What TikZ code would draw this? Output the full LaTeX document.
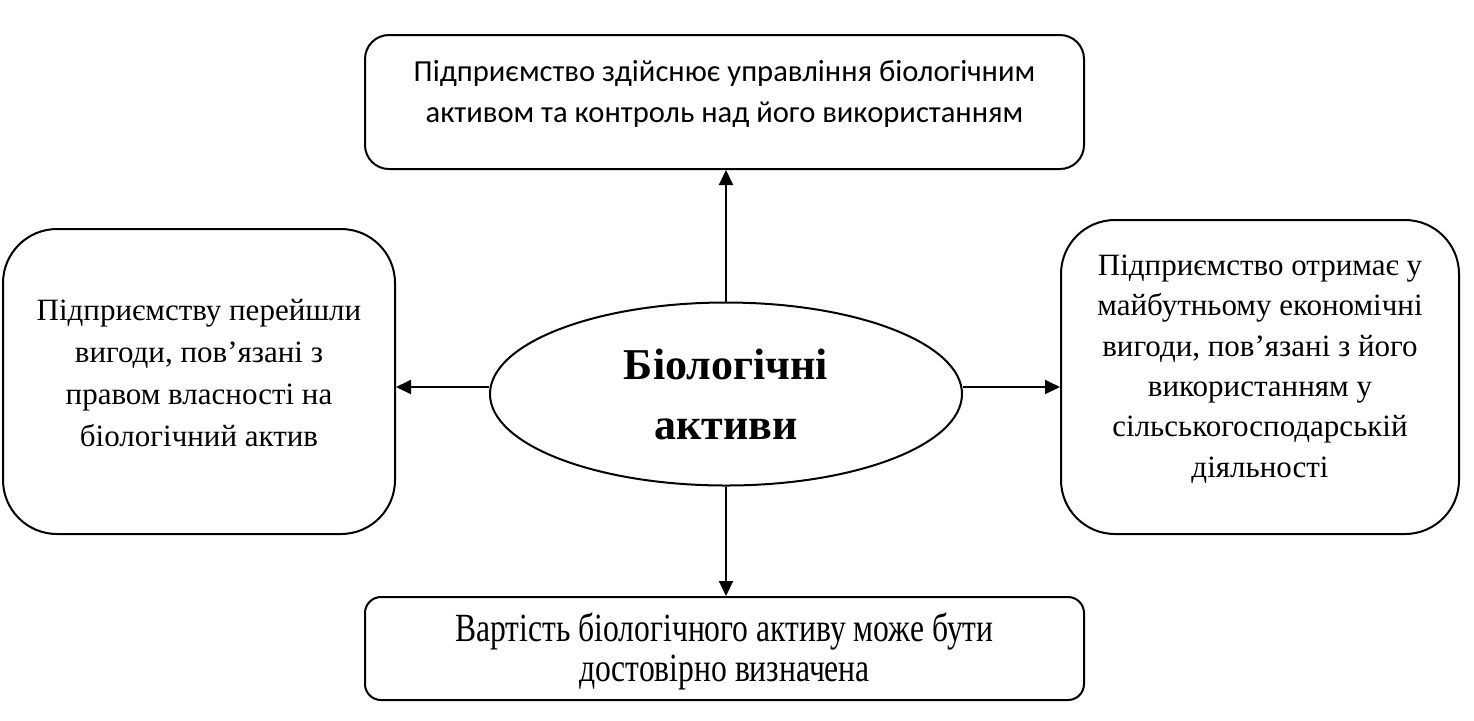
\documentclass[tikz,border=0pt]{standalone}
\usepackage{fontspec}
\setmainfont{Liberation Serif}
\newfontfamily\calfont{Carlito}
\newfontfamily\narrowfont[FakeStretch=0.79]{Liberation Serif}
\usetikzlibrary{shapes.geometric,arrows.meta}
\begin{document}
\begin{tikzpicture}[x=0.5pt,y=-0.5pt,
  box/.style={draw,line width=1pt,inner sep=0pt},
  txt/.style={align=center,inner sep=0pt},
  arr/.style={line width=1pt,-{Triangle[length=7.5pt,width=7pt]}}]
\useasboundingbox (0,0) rectangle (1474,720);
% boxes
\node[box,rounded corners=12pt,minimum width=359.5pt,minimum height=67pt] (top) at (724.5,102) {};
\node[box,rounded corners=27pt,minimum width=196pt,minimum height=152.5pt] (lbox) at (199,381.5) {};
\node[box,rounded corners=27pt,minimum width=199pt,minimum height=157pt] (rbox) at (1260,377) {};
\node[box,rounded corners=8pt,minimum width=359.5pt,minimum height=51.5pt] (bot) at (724.5,648.5) {};
\node[draw,line width=1pt,ellipse,inner sep=0pt,minimum width=236pt,minimum height=91.5pt,
  align=center,font=\bfseries\fontsize{22}{30}\selectfont] (ell) at (726,394)
  {Біологічні\\активи};
% texts
\node[txt,font=\calfont\fontsize{15.3}{20.5}\selectfont] (topt) at (724.5,94)
  {Підприємство здійснює управління біологічним\\активом та контроль над його використанням};
\node[txt,font=\fontsize{15.5}{21}\selectfont] (lboxt) at (199,373.5)
  {Підприємству перейшли\\вигоди, пов’язані з\\правом власності на\\біологічний актив};
\node[txt,font=\fontsize{15.5}{20.2}\selectfont] (rboxt) at (1260,369)
  {Підприємство отримає у\\майбутньому економічні\\вигоди, пов’язані з його\\використанням у\\сільськогосподарській\\діяльності};
\node[txt,font=\narrowfont\fontsize{20}{20}\selectfont] (bott) at (724.5,651)
  {Вартість біологічного активу може бути\\достовірно визначена};
% connectors
\coordinate (la) at ([yshift=3.5pt]ell.west);
\coordinate (ra) at ([yshift=3.5pt]ell.east);
\draw[arr] (ell.north) -- (ell.north |- top.south);
\draw[arr] (ell.south) -- (ell.south |- bot.north);
\draw[arr] (la) -- (la -| lbox.east);
\draw[arr] (ra) -- (ra -| rbox.west);
\end{tikzpicture}
\end{document}
